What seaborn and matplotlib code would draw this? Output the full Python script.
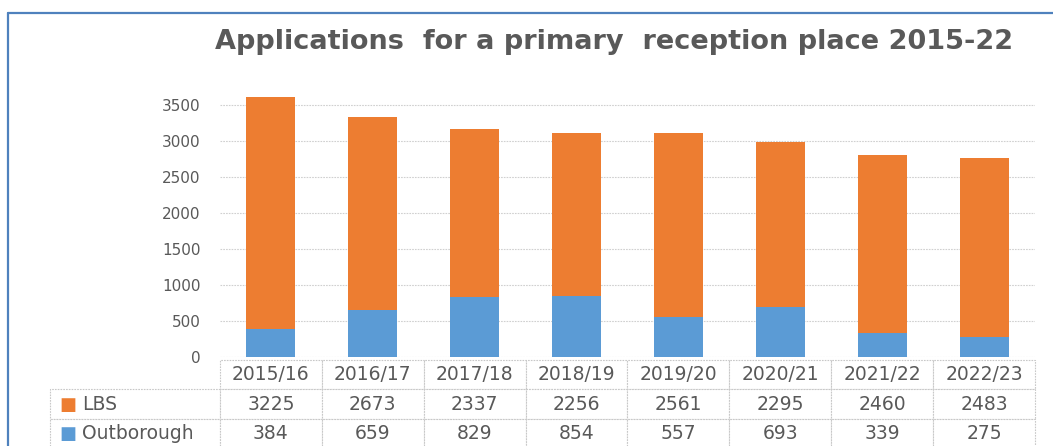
import matplotlib
matplotlib.use("Agg")
import matplotlib.pyplot as plt
import matplotlib.lines as mlines
import pandas as pd
import seaborn as sns

years = ["2015/16", "2016/17", "2017/18", "2018/19", "2019/20", "2020/21", "2021/22", "2022/23"]
lbs = [3225, 2673, 2337, 2256, 2561, 2295, 2460, 2483]
outborough = [384, 659, 829, 854, 557, 693, 339, 275]

orange = "#ED7D31"
blue = "#5B9BD5"
grey = "#595959"

df = pd.DataFrame({"year": years, "LBS": lbs, "Outborough": outborough})
df["total"] = df["LBS"] + df["Outborough"]

sns.set_style("white")
plt.rcParams["font.family"] = ["DejaVu Sans"]

fig = plt.figure(figsize=(10.53, 4.46), dpi=100)
W, H = 1053, 446
ax_left, ax_right, ax_bottom = 220, 1035, 357
ymax = 3700
ax_h = ymax / 3500 * 252
ax = fig.add_axes([ax_left / W, (H - ax_bottom) / H, (ax_right - ax_left) / W, ax_h / H])

# stacked bars: total (orange) with outborough (blue) drawn over the base
sns.barplot(data=df, x="year", y="total", color=orange, width=0.48, saturation=1,
            linewidth=0, ax=ax, zorder=3)
sns.barplot(data=df, x="year", y="Outborough", color=blue, width=0.48, saturation=1,
            linewidth=0, ax=ax, zorder=4)

ax.set_ylim(0, ymax)
ax.set_xlim(-0.5, len(years) - 0.5)
ax.set_yticks(range(0, 4000, 500))
ax.set_yticklabels([str(v) for v in range(0, 4000, 500)], color=grey, fontsize=11)
ax.tick_params(axis="y", length=0, pad=14)
ax.set_xticks([])
ax.set_xlabel("")
ax.set_ylabel("")
for s in ax.spines.values():
    s.set_visible(False)
ax.yaxis.grid(True, color="#d0d0d0", linestyle=(0, (1.5, 1)), linewidth=0.8, zorder=0)
ax.set_axisbelow(True)

# data table under the bars
lab_frac = 170 / (ax_right - ax_left)
rows = [["LBS"] + [str(v) for v in lbs], ["Outborough"] + [str(v) for v in outborough]]
top = -3 / ax_h
bottom = -91 / ax_h
tbl = ax.table(cellText=rows, colLabels=[""] + years, cellLoc="center",
               colWidths=[lab_frac] + [1 / len(years)] * len(years),
               bbox=[-lab_frac, bottom, 1 + lab_frac, top - bottom])
tbl.auto_set_font_size(False)
tbl.set_fontsize(13.5)
for (r, c), cell in tbl.get_celld().items():
    cell.set_edgecolor("#c8c8c8")
    cell.set_linestyle((0, (1.5, 1)))
    cell.set_linewidth(0.8)
    cell.get_text().set_color(grey)
    if r == 0 and c == 0:
        cell.visible_edges = ""
    if c == 0 and r > 0:
        cell._loc = "left"
        cell.get_text().set_ha("left")
        cell.PAD = 0.19

# legend keys inside the label column
for i, col in enumerate([orange, blue]):
    yc = (top - (31 / ax_h)) - (i + 0.5) * (28.5 / ax_h)
    ax.text(-lab_frac + 0.011, yc, "\u25A0", color=col, fontsize=13,
            ha="left", va="center", transform=ax.transAxes)

fig.text(0.583, 1 - 42 / H, "Applications  for a primary  reception place 2015-22",
         ha="center", va="center", fontsize=19.5, fontweight="bold", color=grey)

# chart frame (cropped on right and bottom)
fig.add_artist(mlines.Line2D([8 / W, 8 / W], [0, 1 - 13 / H], color="#4F81BD", linewidth=1.6,
                             transform=fig.transFigure))
fig.add_artist(mlines.Line2D([8 / W, 1], [1 - 13 / H, 1 - 13 / H], color="#4F81BD", linewidth=1.6,
                             transform=fig.transFigure))

fig.savefig("out.png", dpi=100)
